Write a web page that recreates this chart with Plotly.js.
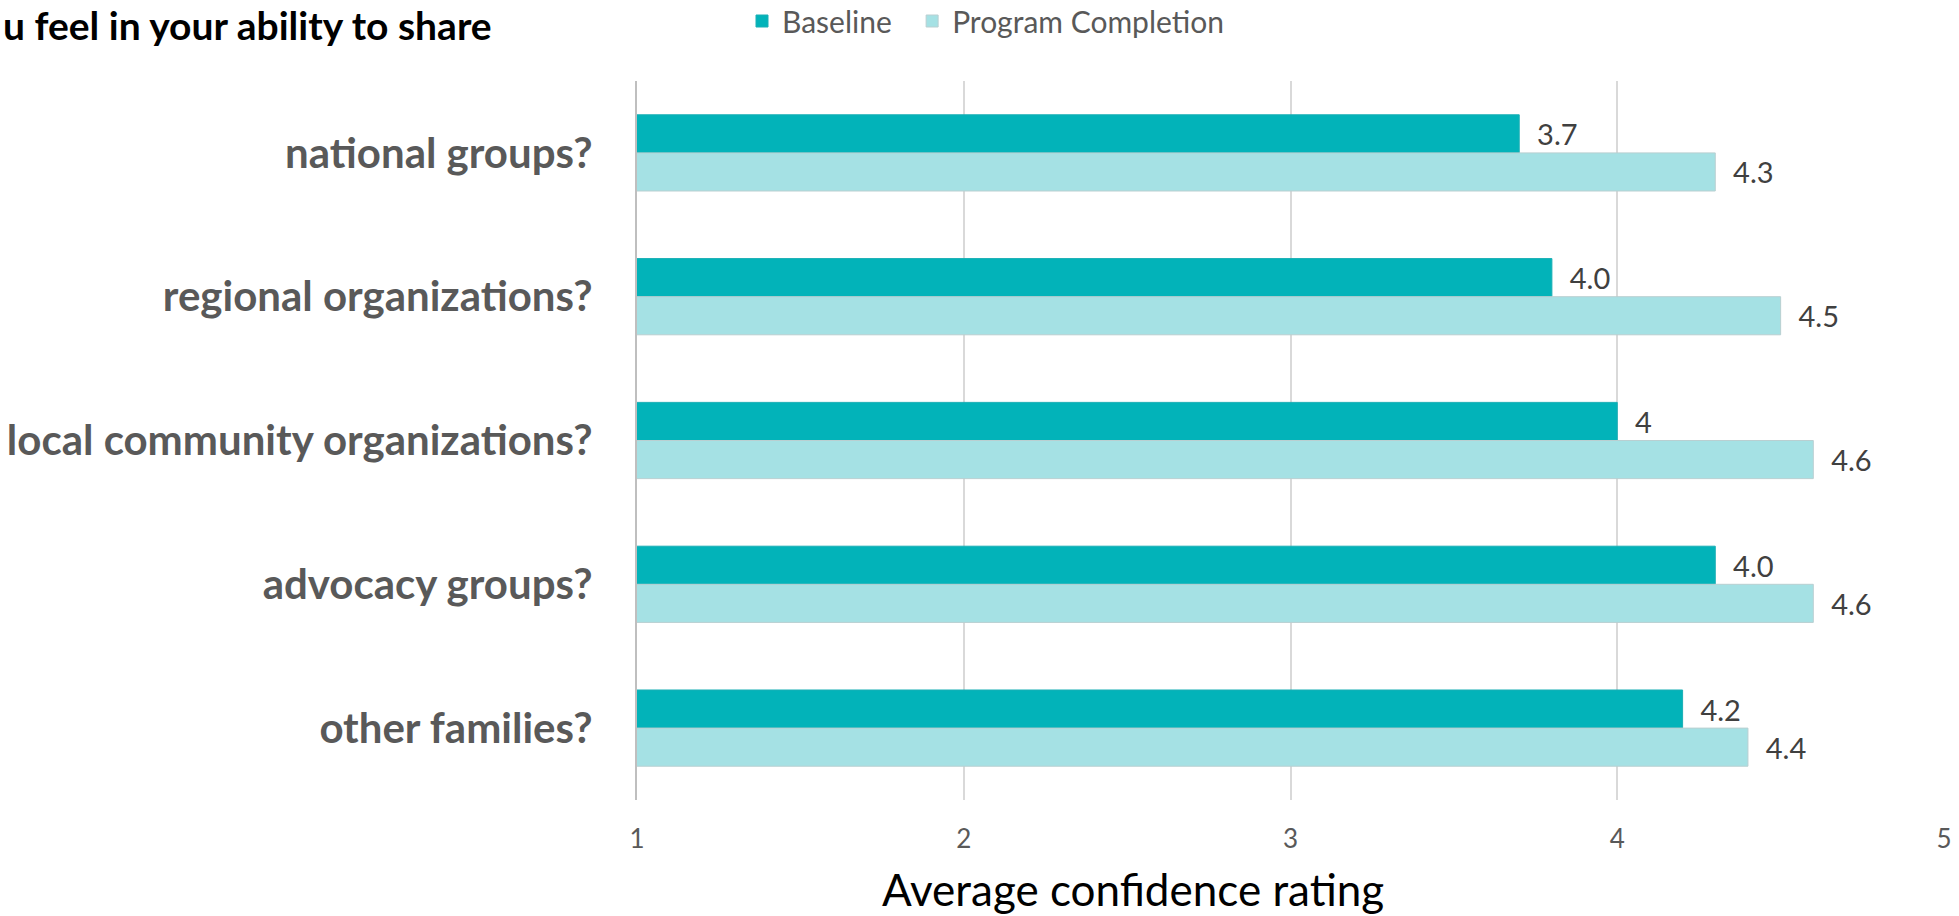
<!DOCTYPE html>
<html>
<head>
<meta charset="utf-8">
<script src="https://cdn.plot.ly/plotly-3.0.1.min.js"></script>
<style>html,body{margin:0;padding:0;background:#fff;}#chart{width:1959px;height:916px;}</style>
</head>
<body>
<div id="chart"></div>
<script>
const categories = ["national groups?", "regional organizations?", "local community organizations?", "advocacy groups?", "other families?"];
const baselineValues = [3.7, 3.8, 4.0, 4.3, 4.2];
const completionValues = [4.3, 4.5, 4.6, 4.6, 4.4];
const baselineLabels = ["3.7", "4.0", "4", "4.0", "4.2"];
const completionLabels = ["4.3", "4.5", "4.6", "4.6", "4.4"];
const xTickValues = [1, 2, 3, 4, 5];
const seriesNames = ["Baseline", "Program Completion"];

const FONT = "Lato, 'Open Sans', sans-serif";
const pad = s => "\u00a0\u00a0" + s;

const traces = [
  {
    type: "bar", orientation: "h", name: seriesNames[0] + "\u00a0\u00a0",
    y: categories, x: baselineValues, base: 0,
    text: baselineLabels.map(pad), textposition: "outside",
    textfont: {family: FONT, size: 29, color: "#404040"},
    marker: {color: "#02B3B9", line: {color: "#1AAFB5", width: 1}},
    cliponaxis: false, hoverinfo: "x+y"
  },
  {
    type: "bar", orientation: "h", name: seriesNames[1],
    y: categories, x: completionValues, base: 0,
    text: completionLabels.map(pad), textposition: "outside",
    textfont: {family: FONT, size: 29, color: "#404040"},
    marker: {color: "#A5E1E4", line: {color: "#B9CFD1", width: 1}},
    cliponaxis: false, hoverinfo: "x+y"
  }
];

const layout = {
  width: 1959, height: 916,
  margin: {l: 637, r: 15, t: 81, b: 116, pad: 0, autoexpand: false},
  paper_bgcolor: "#ffffff", plot_bgcolor: "#ffffff",
  barmode: "group", bargap: 0.47, bargroupgap: 0,
  font: {family: FONT, color: "#595959"},
  title: {
    text: "<b>u feel in your ability to share</b>",
    font: {family: FONT, size: 39, color: "#000000"},
    xref: "container", yref: "container", x: 3 / 1959, xanchor: "left",
    y: 1 - 26/916, yanchor: "middle", pad: {l: 0, t: 0}
  },
  xaxis: {
    range: [1, 5], tickvals: xTickValues, ticktext: xTickValues.map(String),
    showgrid: true, gridcolor: "#d9d9d9", gridwidth: 2,
    zeroline: false, showline: false, ticks: "",
    tickfont: {family: FONT, size: 26, color: "#595959"},
    ticklabelstandoff: 21, fixedrange: true, automargin: false
  },
  yaxis: {
    type: "category", autorange: "reversed",
    showgrid: false, zeroline: false,
    showline: true, linecolor: "#bfbfbf", linewidth: 2,
    ticks: "", ticklabelstandoff: 34,
    tickfont: {family: FONT, size: 42, color: "#595959", weight: "bold"},
    fixedrange: true, automargin: false
  },
  legend: {
    orientation: "h", xref: "container", yref: "container",
    x: 742 / 1959, xanchor: "left",
    y: 1 - 21 / 916, yanchor: "middle",
    font: {family: FONT, size: 30, color: "#595959"},
    traceorder: "normal", itemwidth: 30,
    bgcolor: "rgba(0,0,0,0)"
  },
  annotations: [{
    text: "Average confidence rating", showarrow: false,
    xref: "paper", yref: "paper",
    x: (1133 - 637) / 1307, xanchor: "center",
    y: -(889 - 800) / 719, yanchor: "middle",
    font: {family: FONT, size: 44, color: "#000000"}
  }],
  showlegend: true
};

Plotly.newPlot("chart", traces, layout, {displayModeBar: false, staticPlot: true});
</script>
</body>
</html>
